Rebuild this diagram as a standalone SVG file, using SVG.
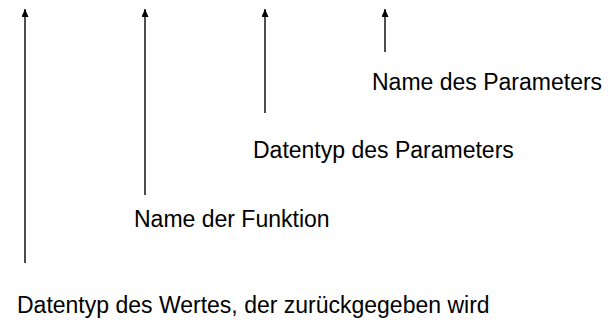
<svg xmlns="http://www.w3.org/2000/svg" width="613" height="320" viewBox="0 0 613 320">
<defs>
<marker id="ah" viewBox="0 0 8 7" refX="8" refY="3.5" markerWidth="8" markerHeight="7" markerUnits="userSpaceOnUse" orient="auto">
<path d="M0,0 L8,3.5 L0,7 Z" fill="#000"/>
</marker>
</defs>
<style>
.lbl{font-family:"Liberation Sans",Arial,sans-serif;font-size:23px;fill:#000}
.con{stroke:#000;stroke-width:1.4;fill:none}
</style>
<rect width="613" height="320" fill="#fff"/>
<g id="connectors">
<line class="con" x1="25" y1="263" x2="25" y2="9" marker-end="url(#ah)"/>
<line class="con" x1="145" y1="195" x2="145" y2="9" marker-end="url(#ah)"/>
<line class="con" x1="265" y1="113" x2="265" y2="9" marker-end="url(#ah)"/>
<line class="con" x1="385" y1="52" x2="385" y2="9" marker-end="url(#ah)"/>
</g>
<g id="node-return"><text class="lbl" x="17" y="313">Datentyp des Wertes, der zurückgegeben wird</text></g>
<g id="node-funcname"><text class="lbl" x="134" y="227">Name der Funktion</text></g>
<g id="node-paramtype"><text class="lbl" x="253" y="158">Datentyp des Parameters</text></g>
<g id="node-paramname"><text class="lbl" x="372" y="90">Name des Parameters</text></g>
</svg>
